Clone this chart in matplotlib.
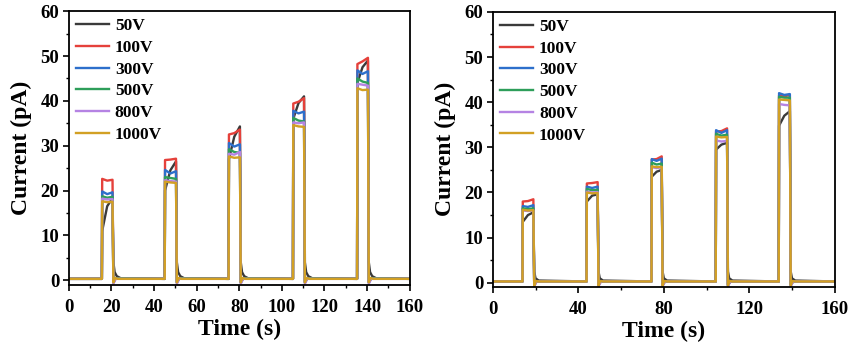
import numpy as np
import matplotlib
matplotlib.use('Agg')
import matplotlib.pyplot as plt
from matplotlib.ticker import MultipleLocator

plt.rcParams['font.family'] = ['Liberation Serif', 'DejaVu Serif']
plt.rcParams['font.weight'] = 'bold'

labels = ['50V', '100V', '300V', '500V', '800V', '1000V']
colors = ['#3a3a3a', '#e5413b', '#2d6fcb', '#2e9e5a', '#b583e3', '#d2a024']

baseline = 0.3

# ---- left panel ----
left_on = [15.5, 45.0, 75.0, 105.2, 135.3]
left_off = [20.5, 50.3, 80.3, 110.4, 140.4]
# plateau values per pulse: start, middle, end
left_start = {
    '50V':   [11.0, 20.0, 27.0, 36.0, 44.0],
    '100V':  [22.6, 26.8, 32.5, 39.4, 48.2],
    '300V':  [19.8, 24.6, 30.6, 37.8, 46.8],
    '500V':  [18.7, 23.0, 29.2, 36.2, 45.0],
    '800V':  [18.2, 22.3, 28.2, 35.2, 43.8],
    '1000V': [17.6, 22.0, 27.6, 34.6, 42.8],
}
left_mid = {
    '50V':   [16.5, 24.5, 32.0, 39.5, 47.5],
    '100V':  [22.2, 26.9, 32.8, 39.8, 48.8],
    '300V':  [19.2, 23.8, 29.8, 37.2, 46.0],
    '500V':  [18.4, 22.8, 28.6, 35.6, 44.3],
    '800V':  [18.0, 22.1, 28.0, 35.0, 43.6],
    '1000V': [17.4, 21.8, 27.3, 34.3, 42.4],
}
left_end = {
    '50V':   [18.3, 26.5, 34.3, 41.0, 49.0],
    '100V':  [22.4, 27.1, 33.6, 40.6, 49.6],
    '300V':  [19.6, 24.3, 30.3, 37.6, 46.6],
    '500V':  [18.6, 22.6, 28.4, 35.4, 44.0],
    '800V':  [18.1, 22.0, 28.6, 35.2, 43.4],
    '1000V': [17.5, 21.7, 27.4, 34.2, 42.5],
}
# decay after switching off: (seconds after off, value)
left_tail = {
    '50V':   [(0.4, 4.0), (1.0, 1.8), (2.0, 0.9), (4.0, 0.4)],
    '100V':  [(0.4, -0.4), (1.5, 0.4)],
    '300V':  [(0.4, -0.6), (1.5, 0.4)],
    '500V':  [(0.4, -0.5), (1.5, 0.4)],
    '800V':  [(0.4, -0.8), (1.5, 0.3)],
    '1000V': [(0.4, -0.5), (1.2, 0.5), (2.5, 0.3)],
}

# ---- right panel ----
right_on = [13.8, 43.8, 74.2, 104.3, 133.8]
right_off = [18.9, 49.0, 79.0, 109.6, 139.0]
right_start = {
    '50V':   [13.5, 18.0, 23.5, 29.5, 34.8],
    '100V':  [18.0, 22.0, 27.3, 33.5, 41.5],
    '300V':  [17.0, 21.3, 27.4, 33.8, 42.0],
    '500V':  [16.5, 20.8, 26.6, 33.0, 41.2],
    '800V':  [16.0, 20.2, 25.6, 31.5, 39.6],
    '1000V': [16.2, 20.0, 25.8, 32.4, 40.6],
}
right_mid = {
    '50V':   [15.0, 19.3, 24.6, 30.6, 37.0],
    '100V':  [18.1, 22.1, 27.4, 33.6, 41.3],
    '300V':  [16.8, 21.0, 27.0, 33.2, 41.6],
    '500V':  [16.3, 20.5, 26.2, 32.6, 41.0],
    '800V':  [15.9, 20.0, 25.4, 31.3, 39.4],
    '1000V': [16.0, 19.8, 25.6, 32.2, 40.5],
}
right_end = {
    '50V':   [15.6, 19.6, 25.0, 31.0, 38.0],
    '100V':  [18.5, 22.3, 28.0, 34.2, 41.6],
    '300V':  [17.2, 21.3, 27.5, 33.8, 41.8],
    '500V':  [16.5, 20.6, 26.4, 32.8, 41.0],
    '800V':  [16.0, 20.1, 25.6, 31.4, 39.3],
    '1000V': [16.1, 19.9, 25.7, 32.3, 40.4],
}
right_tail = {
    '50V':   [(0.4, 2.5), (1.0, 1.0), (2.5, 0.5)],
    '100V':  [(0.4, -0.4), (1.5, 0.3)],
    '300V':  [(0.4, -0.6), (1.5, 0.3)],
    '500V':  [(0.4, -0.5), (1.5, 0.3)],
    '800V':  [(0.4, -0.8), (1.5, 0.3)],
    '1000V': [(0.4, -0.6), (1.2, 0.4), (2.5, 0.3)],
}


def waveform(t_on, t_off, start, mid, end, tail):
    # corner points of the pulse train
    t = [0.0]
    y = [baseline]
    for i in range(len(t_on)):
        t += [t_on[i], t_on[i] + 0.15, (t_on[i] + t_off[i]) / 2, t_off[i]]
        y += [baseline, start[i], mid[i], end[i]]
        for dt, v in tail:
            t.append(t_off[i] + dt)
            y.append(v)
    t.append(160.0)
    y.append(baseline)
    return np.array(t), np.array(y)


def panel(ax, t_on, t_off, start, mid, end, tail, xmajor, ybottom):
    for lab, col in zip(labels, colors):
        t, y = waveform(t_on, t_off, start[lab], mid[lab], end[lab], tail[lab])
        ax.plot(t, y, color=col, lw=1.7, label=lab)
    ax.set_xlim(0, 160)
    ax.set_ylim(ybottom, 60)
    ax.xaxis.set_major_locator(MultipleLocator(xmajor))
    ax.xaxis.set_minor_locator(MultipleLocator(xmajor / 2))
    ax.yaxis.set_major_locator(MultipleLocator(10))
    ax.yaxis.set_minor_locator(MultipleLocator(5))
    ax.tick_params(which='major', direction='out', length=4, width=1.2,
                   labelsize=13.5, pad=3)
    ax.tick_params(axis='x', which='major', pad=6)
    ax.tick_params(which='minor', direction='out', length=2.5, width=1.0)
    for s in ax.spines.values():
        s.set_linewidth(1.3)
    ax.set_xlabel('Time (s)', fontsize=17, fontweight='bold', labelpad=2)
    ax.set_ylabel('Current (pA)', fontsize=17, fontweight='bold', labelpad=6)
    ax.legend(loc='upper left', frameon=False, handlelength=1.9,
              handletextpad=0.35, labelspacing=0.32, borderaxespad=0.1,
              borderpad=0.3, prop={'weight': 'bold', 'size': 12.5})


fig = plt.figure(figsize=(8.5, 3.49), dpi=100)
ax1 = fig.add_axes([0.081, 0.183, 0.401, 0.785])
ax2 = fig.add_axes([0.580, 0.178, 0.402, 0.788])

panel(ax1, left_on, left_off, left_start, left_mid, left_end, left_tail, 20, -1.1)
panel(ax2, right_on, right_off, right_start, right_mid, right_end, right_tail, 40, -0.9)

fig.savefig('out.png', dpi=100)
